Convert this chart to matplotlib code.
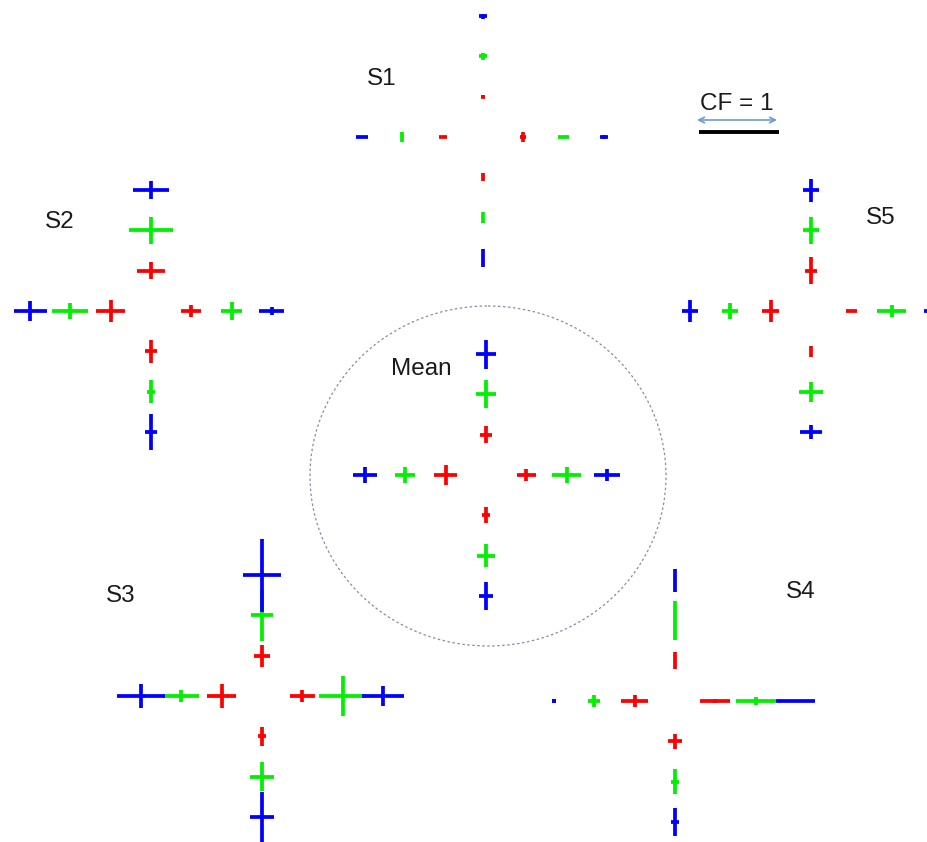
import matplotlib
matplotlib.use("Agg")
import matplotlib.pyplot as plt
from matplotlib.patches import Ellipse

# ---- data: cross sizes in CF units, [horizontal, vertical] ----
# order of arms: up, down, left, right ; order inside arm: red, green, blue
arms = ["up", "down", "left", "right"]
colors = ["#ff0000", "#00f000", "#0000ff"]

S1 = {
    "up":    [(0.04, 0.04), (0.09, 0.09), (0.10, 0.06)],
    "down":  [(0.00, 0.10), (0.00, 0.13), (0.00, 0.23)],
    "left":  [(0.10, 0.00), (0.00, 0.13), (0.15, 0.00)],
    "right": [(0.08, 0.13), (0.13, 0.00), (0.10, 0.05)],
}
S2 = {
    "up":    [(0.34, 0.21), (0.54, 0.34), (0.46, 0.23)],
    "down":  [(0.16, 0.28), (0.11, 0.28), (0.16, 0.46)],
    "left":  [(0.36, 0.28), (0.45, 0.21), (0.41, 0.26)],
    "right": [(0.25, 0.14), (0.26, 0.23), (0.31, 0.10)],
}
S3 = {
    "up":    [(0.20, 0.28), (0.28, 0.64), (0.48, 0.91)],
    "down":  [(0.11, 0.24), (0.29, 0.36), (0.29, 0.62)],
    "left":  [(0.36, 0.29), (0.45, 0.14), (0.60, 0.30)],
    "right": [(0.31, 0.16), (0.58, 0.51), (0.53, 0.26)],
}
S4 = {
    "up":    [(0.00, 0.21), (0.00, 0.49), (0.00, 0.29)],
    "down":  [(0.18, 0.19), (0.09, 0.31), (0.09, 0.34)],
    "left":  [(0.33, 0.14), (0.15, 0.16), (0.06, 0.06)],
    "right": [(0.38, 0.06), (0.50, 0.09), (0.49, 0.00)],
}
S5 = {
    "up":    [(0.16, 0.34), (0.21, 0.34), (0.21, 0.29)],
    "down":  [(0.00, 0.14), (0.31, 0.25), (0.28, 0.18)],
    "left":  [(0.21, 0.28), (0.20, 0.19), (0.21, 0.28)],
    "right": [(0.14, 0.03), (0.36, 0.16), (0.20, 0.10)],
}
MEAN = {
    "up":    [(0.16, 0.21), (0.26, 0.35), (0.26, 0.36)],
    "down":  [(0.09, 0.20), (0.23, 0.28), (0.18, 0.36)],
    "left":  [(0.28, 0.24), (0.25, 0.20), (0.29, 0.20)],
    "right": [(0.24, 0.14), (0.36, 0.21), (0.33, 0.14)],
}
group_names = ["S1", "S2", "S3", "S4", "S5", "Mean"]
groups = [S1, S2, S3, S4, S5, MEAN]

# ---- layout (pixel coordinates) ----
centers = {"S1": (483, 137), "S2": (151, 311), "S3": (262, 696),
           "S4": (675, 701), "S5": (811, 311), "Mean": (486, 475)}
label_pos = {"S1": (382, 79), "S2": (60, 222), "S3": (121, 596),
             "S4": (801, 592), "S5": (881, 218), "Mean": (421, 369)}
spacing = 40.3
cf_px = 80.0
direction = {"up": (0, -1), "down": (0, 1), "left": (-1, 0), "right": (1, 0)}

W, H = 927, 842
fig = plt.figure(figsize=(W / 100, H / 100), dpi=100)
ax = fig.add_axes([0, 0, 1, 1])
ax.set_xlim(0, W)
ax.set_ylim(H, 0)
ax.axis("off")

lw = 2.7
font = ["Liberation Sans", "DejaVu Sans"]

for name, g in zip(group_names, groups):
    cx, cy = centers[name]
    for arm in arms:
        dx, dy = direction[arm]
        for k, (hl, vl) in enumerate(g[arm]):
            px = cx + dx * spacing * (k + 1)
            py = cy + dy * spacing * (k + 1)
            c = colors[k]
            if hl > 0:
                ax.plot([px - hl * cf_px / 2, px + hl * cf_px / 2], [py, py],
                        color=c, lw=lw, solid_capstyle="butt")
            if vl > 0:
                ax.plot([px, px], [py - vl * cf_px / 2, py + vl * cf_px / 2],
                        color=c, lw=lw, solid_capstyle="butt")
    lx, ly = label_pos[name]
    ax.text(lx, ly, name, fontsize=17.5, ha="center", va="center",
            family=font, color="#1a1a1a")

# dotted circle around mean
ax.add_patch(Ellipse((488, 476), 356, 340, fill=False, edgecolor="#8a8aa8",
                     lw=0.9, linestyle=(0, (2, 2))))

# scale bar CF = 1
ax.text(737, 104, "CF = 1", fontsize=17.5, ha="center", va="center",
        family=font, color="#1a1a1a")
ax.annotate("", xy=(697, 120), xytext=(777, 120),
            arrowprops=dict(arrowstyle="<->", color="#6a9bd8", lw=1.2,
                            shrinkA=0, shrinkB=0))
ax.plot([699, 699 + cf_px], [132, 132], color="black", lw=2.8,
        solid_capstyle="butt")

fig.savefig("out.png", dpi=100)
